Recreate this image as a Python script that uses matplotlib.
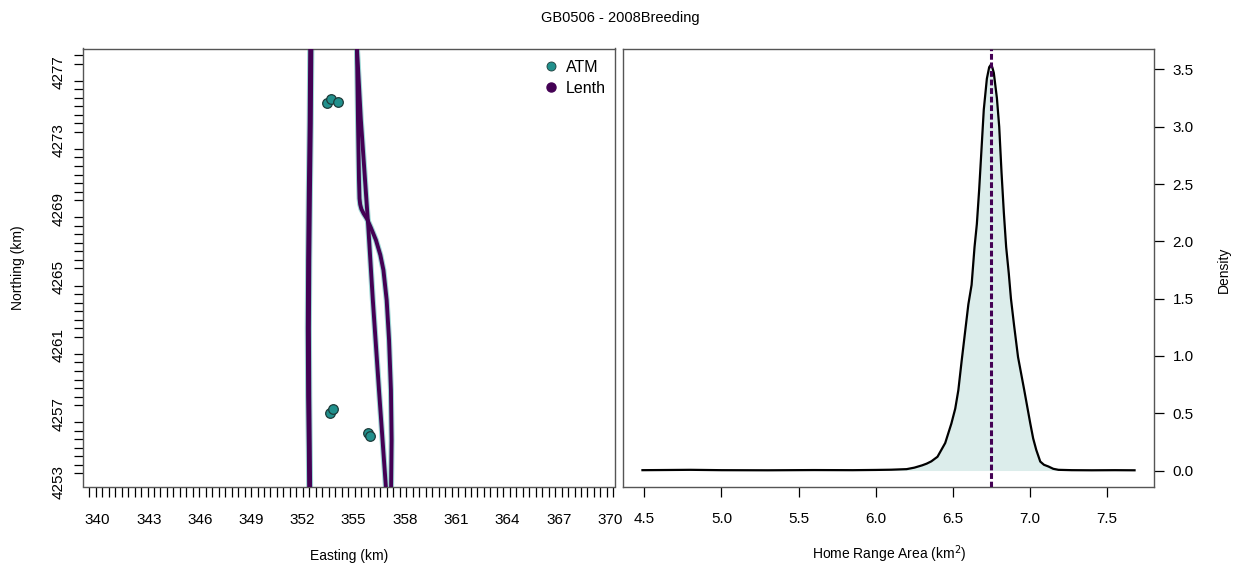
import matplotlib
matplotlib.use("Agg")
import matplotlib.pyplot as plt
import numpy as np
from matplotlib.lines import Line2D

plt.rcParams['font.family'] = ['Liberation Sans', 'DejaVu Sans']

# ---------------- data ----------------
title = "GB0506 - 2008Breeding"

# ATM relocations (km)
atm_east = [353.45, 353.65, 354.10, 353.62, 353.76, 355.85, 355.94]
atm_north = [4275.17, 4275.41, 4275.25, 4257.02, 4257.26, 4255.89, 4255.69]

# home-range contour outlines (left and right edges), km
left_north = [4251.5, 4255.0, 4258.0, 4262.0, 4266.0, 4270.0, 4274.0, 4279.5]
contour1_left_east = [352.40, 352.37, 352.33, 352.31, 352.33, 352.37, 352.42, 352.46]
contour2_left_east = [352.46, 352.43, 352.40, 352.38, 352.40, 352.44, 352.49, 352.53]

contour1_right_north = [4279.5, 4278.41, 4274.19, 4270.68, 4269.60, 4269.25, 4268.98,
                        4268.72, 4268.40, 4267.90, 4267.17, 4266.29, 4265.41,
                        4263.65, 4261.31, 4258.39, 4255.46, 4252.77, 4251.5]
contour1_right_east = [355.13, 355.19, 355.25, 355.31, 355.34, 355.38, 355.45,
                       355.58, 355.78, 356.00, 356.30, 356.56, 356.74,
                       356.93, 357.07, 357.18, 357.22, 357.19, 357.17]
contour2_right_north = [4279.5, 4278.41, 4274.19, 4268.0, 4263.65, 4258.39, 4252.77, 4251.5]
contour2_right_east = [355.12, 355.19, 355.42, 355.85, 356.12, 356.48, 356.88, 356.95]

# kernel density of bootstrapped home-range area (km^2)
area = [4.488, 4.6, 4.8, 5.0, 5.3, 5.6, 5.85, 6.0, 6.1, 6.2, 6.25, 6.3, 6.33, 6.36,
        6.4, 6.45, 6.49, 6.515, 6.535, 6.556, 6.578, 6.60, 6.621, 6.64, 6.655,
        6.67, 6.685, 6.70, 6.72, 6.735, 6.745, 6.755, 6.765, 6.785, 6.80, 6.815,
        6.83, 6.845, 6.862, 6.876, 6.896, 6.922, 6.962, 7.001, 7.020, 7.040,
        7.066, 7.09, 7.119, 7.15, 7.184, 7.27, 7.4, 7.55, 7.677]
density = [0.003, 0.004, 0.006, 0.003, 0.002, 0.004, 0.003, 0.005, 0.007, 0.012,
           0.025, 0.045, 0.060, 0.080, 0.12, 0.24, 0.41, 0.54, 0.70, 0.95, 1.20,
           1.45, 1.62, 1.95, 2.15, 2.45, 2.80, 3.15, 3.42, 3.52, 3.54, 3.52, 3.47,
           3.25, 3.00, 2.60, 2.25, 1.95, 1.72, 1.50, 1.27, 0.99, 0.703, 0.413,
           0.28, 0.180, 0.078, 0.050, 0.035, 0.015, 0.006, 0.003, 0.002, 0.003,
           0.002]
area_estimate = 6.745

x_labels = [340, 343, 346, 349, 352, 355, 358, 361, 364, 367, 370]
y_labels = [4253, 4257, 4261, 4265, 4269, 4273, 4277]
area_ticks = [4.5, 5.0, 5.5, 6.0, 6.5, 7.0, 7.5]
dens_ticks = [0.0, 0.5, 1.0, 1.5, 2.0, 2.5, 3.0, 3.5]

# ---------------- style ----------------
ATM_COL = "#21908C"
LENTH_COL = "#440154"
EDGE_COL = "#9fd8d6"
SPINE_COL = "#555555"
FILL_COL = "#dcedeb"

W, H = 1241, 569
fig = plt.figure(figsize=(W / 100, H / 100), dpi=100)

def fx(px):
    return px / W

def fy(py):
    return 1 - py / H

bottom_px, top_px = 486.5, 48.5
ax1 = fig.add_axes([fx(82.7), fy(bottom_px), (615 - 82.7) / W, (bottom_px - top_px) / H])
ax2 = fig.add_axes([fx(622.7), fy(bottom_px), (1154.3 - 622.7) / W, (bottom_px - top_px) / H])

# ---------- left panel ----------
for lx in (contour1_left_east, contour2_left_east):
    ax1.plot(lx, left_north, color=EDGE_COL, lw=4.3, solid_capstyle='butt', zorder=2)
for rx, ry in ((contour1_right_east, contour1_right_north), (contour2_right_east, contour2_right_north)):
    ax1.plot(rx, ry, color=EDGE_COL, lw=4.3, solid_capstyle='butt', zorder=2)
for lx in (contour1_left_east, contour2_left_east):
    ax1.plot(lx, left_north, color=LENTH_COL, lw=2.8, solid_capstyle='butt', zorder=3)
for rx, ry in ((contour1_right_east, contour1_right_north), (contour2_right_east, contour2_right_north)):
    ax1.plot(rx, ry, color=LENTH_COL, lw=2.8, solid_capstyle='butt', zorder=3)

ax1.scatter(atm_east, atm_north, s=48, facecolor=ATM_COL, edgecolor="#1d3b3a",
            linewidth=0.9, zorder=4)

ppk = 17.08
ax1.set_xlim(340 + (82.7 - 97.5) / ppk, 340 + (615 - 97.5) / ppk)
ax1.set_ylim(4253 + (482 - bottom_px) / ppk, 4253 + (482 - top_px) / ppk)

ax1.set_xticks(x_labels)
ax1.set_xticklabels([str(v) for v in x_labels])
ax1.set_xticks([339.52 + 0.3788 * k for k in range(82)], minor=True)
ax1.set_yticks(y_labels)
ax1.set_yticklabels([str(v) for v in y_labels], rotation=90, va='center')
ax1.set_yticks([4253 + 0.5 * k for k in range(51)], minor=True)
ax1.tick_params(axis='x', which='major', length=0, pad=19, labelsize=11)
ax1.tick_params(axis='x', which='minor', length=7.2, width=0.9, direction='out')
ax1.tick_params(axis='y', which='major', length=0, pad=12, labelsize=11)
ax1.tick_params(axis='y', which='minor', length=6.2, width=0.9, direction='out')

leg = ax1.legend(handles=[
    Line2D([], [], ls='', marker='o', markersize=6.5, markerfacecolor=ATM_COL,
           markeredgecolor="#1d3b3a", markeredgewidth=0.6, label="ATM"),
    Line2D([], [], ls='', marker='o', markersize=6.5, markerfacecolor=LENTH_COL,
           markeredgecolor=LENTH_COL, label="Lenth")],
    loc='upper left', bbox_to_anchor=((542.7 - 82.7) / 532.3, (486.5 - 59.5) / 438),
    frameon=False, fontsize=11.5, handletextpad=0.45, handlelength=1.0,
    labelspacing=0.38, borderaxespad=0.0, borderpad=0.0)

# ---------- right panel ----------
ax2.fill_between(area, density, 0, color=FILL_COL, zorder=1, linewidth=0)
ax2.plot(area, density, color='black', lw=1.6, zorder=3)
ax2.axvline(area_estimate, color=LENTH_COL, lw=2.2, dashes=(1.9, 0.9), zorder=4)

ax2.set_xlim(4.36, 7.805)
ax2.set_ylim(-0.1395, 3.683)
ax2.set_xticks(area_ticks)
ax2.set_xticklabels([f"{v:.1f}" for v in area_ticks])
ax2.set_yticks(dens_ticks)
ax2.set_yticklabels([f"{v:.1f}" for v in dens_ticks])
ax2.yaxis.tick_right()
ax2.tick_params(axis='x', length=7.2, width=0.9, pad=11, labelsize=11)
ax2.tick_params(axis='y', length=7.2, width=0.9, pad=6, labelsize=11)

for ax in (ax1, ax2):
    for sp in ax.spines.values():
        sp.set_color(SPINE_COL)
        sp.set_linewidth(1.0)

# ---------- texts ----------
fig.text(fx(620), fy(18), title, ha='center', va='center', fontsize=10.5)
fig.text(fx(349), fy(556), "Easting (km)", ha='center', va='center', fontsize=10)
fig.text(fx(889), fy(554), "Home Range Area (km$^2$)", ha='center', va='center', fontsize=10)
fig.text(fx(18), fy(268), "Northing (km)", ha='center', va='center', rotation=90, fontsize=10)
fig.text(fx(1224), fy(270), "Density", ha='center', va='center', rotation=90, fontsize=10)

fig.savefig("out.png", dpi=100)
